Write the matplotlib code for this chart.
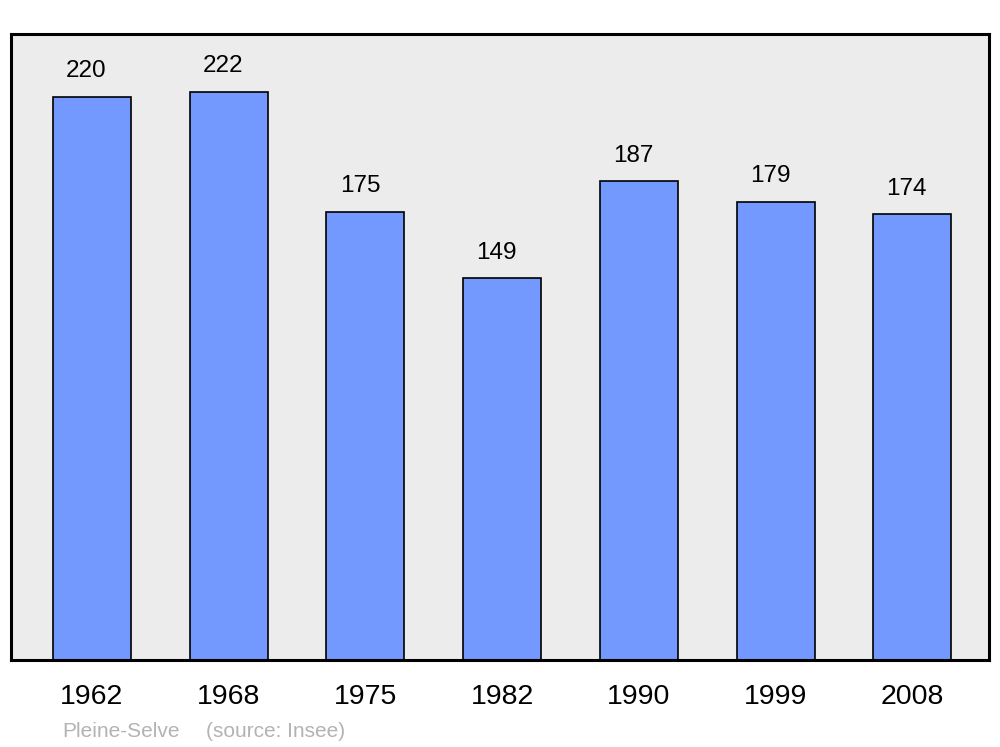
import matplotlib.pyplot as plt

plt.rcParams['font.family'] = ['Liberation Sans', 'DejaVu Sans']

years = ['1962', '1968', '1975', '1982', '1990', '1999', '2008']
population = [220, 222, 175, 149, 187, 179, 174]
commune = 'Pleine-Selve'
source = '(source: Insee)'

fig = plt.figure(figsize=(10, 7.47), dpi=100)
ax = fig.add_axes([0.011, 0.1165, 0.978, 0.838])
ax.set_facecolor('#ececec')

xs = range(len(years))
ax.bar(xs, population, width=0.57, color='#7399ff', edgecolor='black', linewidth=1.2, zorder=2)

for x, v in zip(xs, population):
    ax.annotate(str(v), (x, v), xytext=(-4, 10.5), textcoords='offset points',
                ha='center', va='bottom', fontsize=17.5)

ax.set_xlim(-0.592, 6.56)
ax.set_ylim(0, 244.5)
ax.set_yticks([])
ax.set_xticks(list(xs))
ax.set_xticklabels(years, fontsize=20.5)
ax.tick_params(axis='x', length=0, pad=17)
for s in ax.spines.values():
    s.set_linewidth(2.2)

fig.text(0.062, 0.021, commune, color='#b3b3b3', fontsize=15, va='center')
fig.text(0.206, 0.021, source, color='#b3b3b3', fontsize=15, va='center')

fig.savefig('out.png', dpi=100)
